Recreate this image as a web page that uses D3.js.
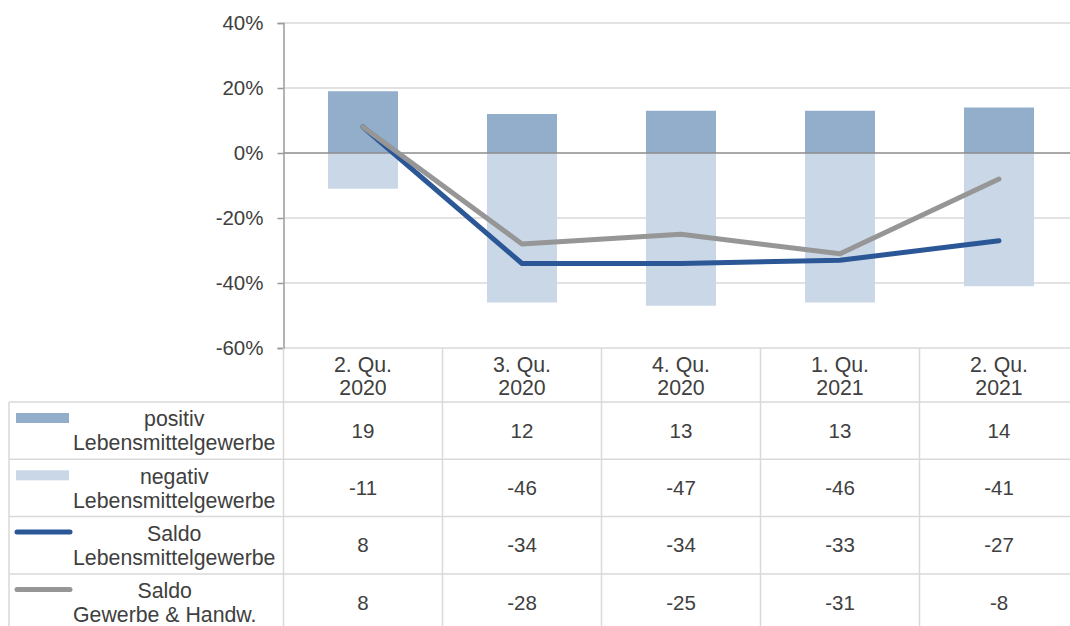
<!DOCTYPE html>
<html>
<head>
<meta charset="utf-8">
<script src="https://cdn.jsdelivr.net/npm/d3@7"></script>
<style>
  body { margin: 0; background: #fff; }
  svg { display: block; font-family: "Liberation Sans", Arial, sans-serif; }
</style>
</head>
<body>
<script>
const WIDTH = 1070;
const HEIGHT = 626;

// data
const quarters = ["2. Qu.|2020", "3. Qu.|2020", "4. Qu.|2020", "1. Qu.|2021", "2. Qu.|2021"];
const positiv = [19, 12, 13, 13, 14];
const negativ = [-11, -46, -47, -46, -41];
const saldoLeb = [8, -34, -34, -33, -27];
const saldoGew = [8, -28, -25, -31, -8];
const yTicks = [40, 20, 0, -20, -40, -60];

const rows = [
  { lines: ["positiv", "Lebensmittelgewerbe"], values: positiv, type: "bar", color: "#93aecb" },
  { lines: ["negativ", "Lebensmittelgewerbe"], values: negativ, type: "bar", color: "#c9d7e7" },
  { lines: ["Saldo", "Lebensmittelgewerbe"], values: saldoLeb, type: "line", color: "#2b5797" },
  { lines: ["Saldo", "Gewerbe & Handw."], values: saldoGew, type: "line", color: "#969696" }
];

const TEXT = "#404040";
const GRID = "#d9d9d9";
const FONT = 20.5;
const LEGEND_FONT = 21.3;

const svg = d3.select("body").append("svg")
  .attr("width", WIDTH)
  .attr("height", HEIGHT);

//scales
const x = d3.scaleBand().domain(quarters).range([283.5, 1078.5]).padding(0);
const y = d3.scaleLinear().domain([-60, 40]).range([348, 23]);
const barW = x.bandwidth() * 0.44;
const cx = d => x(d) + x.bandwidth() / 2;

//gridlines
svg.append("g")
  .selectAll("line")
  .data(yTicks.filter(d => d !== 0))
  .enter().append("line")
  .attr("x1", x.range()[0]).attr("x2", x.range()[1])
  .attr("y1", d => y(d)).attr("y2", d => y(d))
  .attr("stroke", GRID).attr("stroke-width", 1.3);

//bars
svg.append("g").selectAll("rect")
  .data(quarters.map((q, i) => ({ q, v: positiv[i] })))
  .enter().append("rect")
  .attr("x", d => cx(d.q) - barW / 2)
  .attr("width", barW)
  .attr("y", d => y(d.v))
  .attr("height", d => y(0) - y(d.v))
  .attr("fill", rows[0].color);

svg.append("g").selectAll("rect")
  .data(quarters.map((q, i) => ({ q, v: negativ[i] })))
  .enter().append("rect")
  .attr("x", d => cx(d.q) - barW / 2)
  .attr("width", barW)
  .attr("y", y(0))
  .attr("height", d => y(d.v) - y(0))
  .attr("fill", rows[1].color);

//zero line
svg.append("line")
  .attr("x1", x.range()[0]).attr("x2", x.range()[1])
  .attr("y1", y(0)).attr("y2", y(0))
  .attr("stroke", "#8c8c8c").attr("stroke-width", 1.5);

//lines (grey one drawn last, it sits on top)
const line = d3.line().x(d => cx(d.q)).y(d => y(d.v));
[rows[2], rows[3]].forEach(r => {
  svg.append("path")
    .datum(quarters.map((q, i) => ({ q, v: r.values[i] })))
    .attr("d", line)
    .attr("fill", "none")
    .attr("stroke", r.color)
    .attr("stroke-width", 5)
    .attr("stroke-linecap", "round")
    .attr("stroke-linejoin", "round");
});

//y axis
const yAxis = d3.axisLeft(y)
  .tickValues(yTicks)
  .tickFormat(d => d + "%")
  .tickSize(6)
  .tickPadding(14);

const gy = svg.append("g")
  .attr("transform", "translate(" + x.range()[0] + ",0)")
  .call(yAxis);
gy.select(".domain").attr("stroke", "#9a9a9a").attr("stroke-width", 1.5);
gy.selectAll(".tick line").attr("stroke", "#9a9a9a").attr("stroke-width", 1.5);
gy.selectAll(".tick text")
  .attr("fill", TEXT)
  .style("font-size", FONT + "px")
  .style("font-family", "'Liberation Sans', Arial, sans-serif");

//the data table
const rowTop = 402;
const rowH = 57.3;
const tableLeft = 9;
const table = svg.append("g");

//column separators
table.selectAll(".vhead")
  .data(quarters.map(q => x(q)).concat([x.range()[1]]))
  .enter().append("line")
  .attr("x1", d => d).attr("x2", d => d)
  .attr("y1", y(-60)).attr("y2", rowTop + rowH * rows.length)
  .attr("stroke", GRID).attr("stroke-width", 1.5);

table.append("line")
  .attr("x1", tableLeft).attr("x2", tableLeft)
  .attr("y1", rowTop).attr("y2", rowTop + rowH * rows.length)
  .attr("stroke", GRID).attr("stroke-width", 1.5);

d3.range(rows.length + 1).forEach(i => {
  table.append("line")
    .attr("x1", tableLeft).attr("x2", WIDTH + 20)
    .attr("y1", rowTop + i * rowH).attr("y2", rowTop + i * rowH)
    .attr("stroke", GRID).attr("stroke-width", 1.5);
});

//header cells (category labels)
quarters.forEach(q => {
  const parts = q.split("|");
  parts.forEach((p, j) => {
    table.append("text")
      .attr("x", cx(q))
      .attr("y", 365 + j * 23)
      .attr("dy", "0.35em")
      .attr("text-anchor", "middle")
      .attr("fill", TEXT)
      .style("font-size", LEGEND_FONT + "px")
      .text(p);
  });
});

//rows: legend + values
rows.forEach((r, i) => {
  const top = rowTop + i * rowH;

  if (r.type === "bar") {
    table.append("rect")
      .attr("x", 16).attr("y", top + 11)
      .attr("width", 53).attr("height", 10)
      .attr("fill", r.color);
  } else {
    table.append("line")
      .attr("x1", 17).attr("x2", 70)
      .attr("y1", top + 15.5).attr("y2", top + 15.5)
      .attr("stroke", r.color).attr("stroke-width", 5)
      .attr("stroke-linecap", "round");
  }

  const label = table.append("g");
  const texts = r.lines.map((t, j) =>
    label.append("text")
      .attr("y", top + 17 + j * 24)
      .attr("dy", "0.35em")
      .attr("text-anchor", "middle")
      .attr("fill", TEXT)
      .style("font-size", LEGEND_FONT + "px")
      .text(t));
  const maxW = d3.max(texts, t => t.node().getComputedTextLength());
  texts.forEach(t => t.attr("x", 73 + maxW / 2));

  r.values.forEach((v, k) => {
    table.append("text")
      .attr("x", cx(quarters[k]))
      .attr("y", top + rowH / 2)
      .attr("dy", "0.35em")
      .attr("text-anchor", "middle")
      .attr("fill", TEXT)
      .style("font-size", FONT + "px")
      .text(v);
  });
});
</script>
</body>
</html>
